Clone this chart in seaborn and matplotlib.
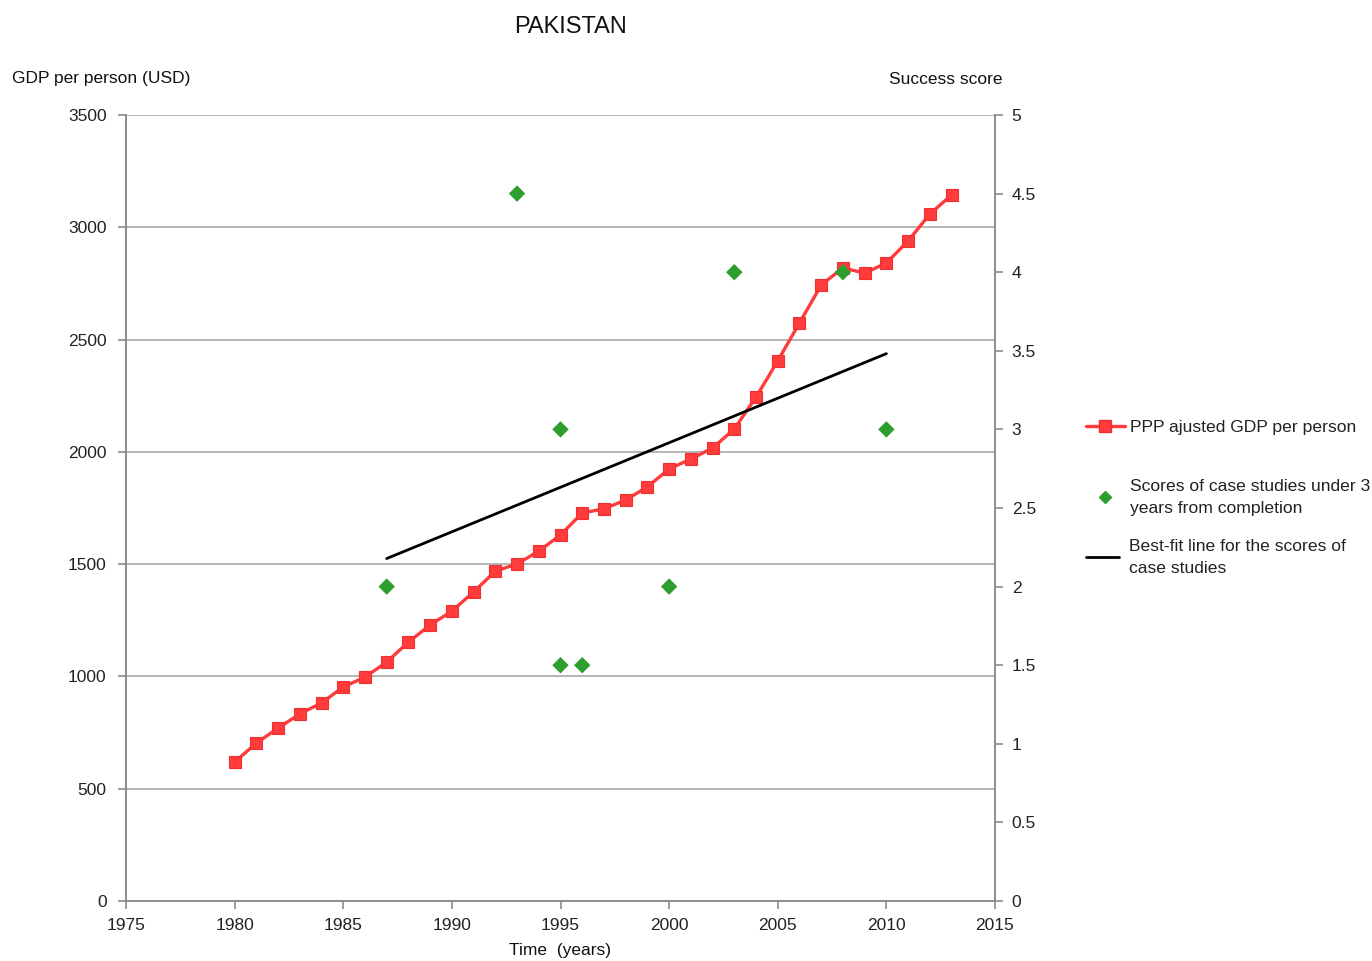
import matplotlib
matplotlib.use("Agg")
import matplotlib.pyplot as plt
import seaborn as sns
import pandas as pd
import numpy as np
from matplotlib.lines import Line2D

years = list(range(1980, 2014))
gdp = [619, 703, 770, 833, 882, 953, 997, 1064, 1153, 1229, 1291, 1376, 1469, 1501,
       1558, 1630, 1728, 1746, 1786, 1844, 1924, 1968, 2017, 2102, 2244, 2405, 2574,
       2743, 2819, 2796, 2841, 2939, 3059, 3144]
score_years = [1987, 1993, 1995, 1995, 1996, 2000, 2003, 2008, 2010]
scores = [2, 4.5, 3, 1.5, 1.5, 2, 4, 4, 3]

sns.set_theme(style="white")
plt.rcParams['font.family'] = ['Liberation Sans', 'DejaVu Sans']

gdp_df = pd.DataFrame({"year": years, "gdp": gdp})
sc_df = pd.DataFrame({"year": score_years, "score": scores})

fig = plt.figure(figsize=(13.72, 9.61), dpi=100)
ax = fig.add_axes([126/1372, 60/961, (995-126)/1372, (901-115)/961])
ax2 = ax.twinx()

red = "#FF3B3B"
green = "#2E9E2E"
sns.lineplot(data=gdp_df, x="year", y="gdp", ax=ax, color=red, lw=2.4,
             marker="s", markersize=9, markeredgecolor="#F03030", markeredgewidth=0.8,
             zorder=3)
sns.scatterplot(data=sc_df, x="year", y="score", ax=ax2, color=green, marker="D",
                s=70, edgecolor="none", zorder=4)
sns.regplot(data=sc_df, x="year", y="score", ax=ax2, scatter=False, ci=None,
            truncate=True, line_kws=dict(color="black", lw=2))

ax.set_xlim(1975, 2015)
ax.set_ylim(0, 3500)
ax2.set_ylim(0, 5)
ax.set_xticks(range(1975, 2016, 5))
ax.set_yticks(range(0, 3501, 500))
ax2.set_yticks(np.arange(0, 5.01, 0.5))
ax2.set_yticklabels(["0", "0.5", "1", "1.5", "2", "2.5", "3", "3.5", "4", "4.5", "5"])
ax.yaxis.grid(True, color="#A8A8A8", lw=1.2)
ax.xaxis.grid(False)
ax2.grid(False)
ax.set_xlabel("")
ax.set_ylabel("")
ax2.set_xlabel("")
ax2.set_ylabel("")

for a in (ax, ax2):
    for s in a.spines.values():
        s.set_color("#8C8C8C")
        s.set_linewidth(1.2)
    a.spines["top"].set_visible(False)
    a.tick_params(axis="both", which="both", length=6, width=1.2, color="#8C8C8C",
                  labelsize=12.5, labelcolor="#222222", direction="out")
ax.tick_params(axis="x", pad=6, bottom=True)
ax.tick_params(axis="y", left=True, pad=8)
ax2.tick_params(axis="y", right=True, pad=6)

fig.text(571/1372, 1-27/961, "PAKISTAN", ha="center", va="center", fontsize=17, color="#111111")
fig.text(12/1372, 1-78/961, "GDP per person (USD)", ha="left", va="center", fontsize=12.5, color="#111111")
fig.text(946/1372, 1-80/961, "Success score", ha="center", va="center", fontsize=12.5, color="#111111")
fig.text(560/1372, 1-951/961, "Time  (years)", ha="center", va="center", fontsize=12.5, color="#111111")

entries = [
    (Line2D([], [], color=red, lw=2.4, marker="s", markersize=9, markeredgecolor="#F03030"),
     "PPP ajusted GDP per person", 420, 2.2, 0.3),
    (Line2D([], [], color=green, lw=0, marker="D", markersize=6.5),
     "Scores of case studies under 3\nyears from completion", 479, 2.2, 0.3),
    (Line2D([], [], color="black", lw=2),
     "Best-fit line for the scores of\ncase studies", 539, 1.9, 0.55),
]
for h, lab, top, hl, pad in entries:
    leg = fig.legend([h], [lab], loc="upper left", bbox_to_anchor=(1086/1372, 1-top/961),
                     frameon=False, fontsize=12.6, handlelength=hl,
                     handletextpad=pad, borderaxespad=0, borderpad=0, labelcolor="#222222")
    for t in leg.get_texts():
        t.set_linespacing(1.55)

fig.savefig("out.png", dpi=100)
